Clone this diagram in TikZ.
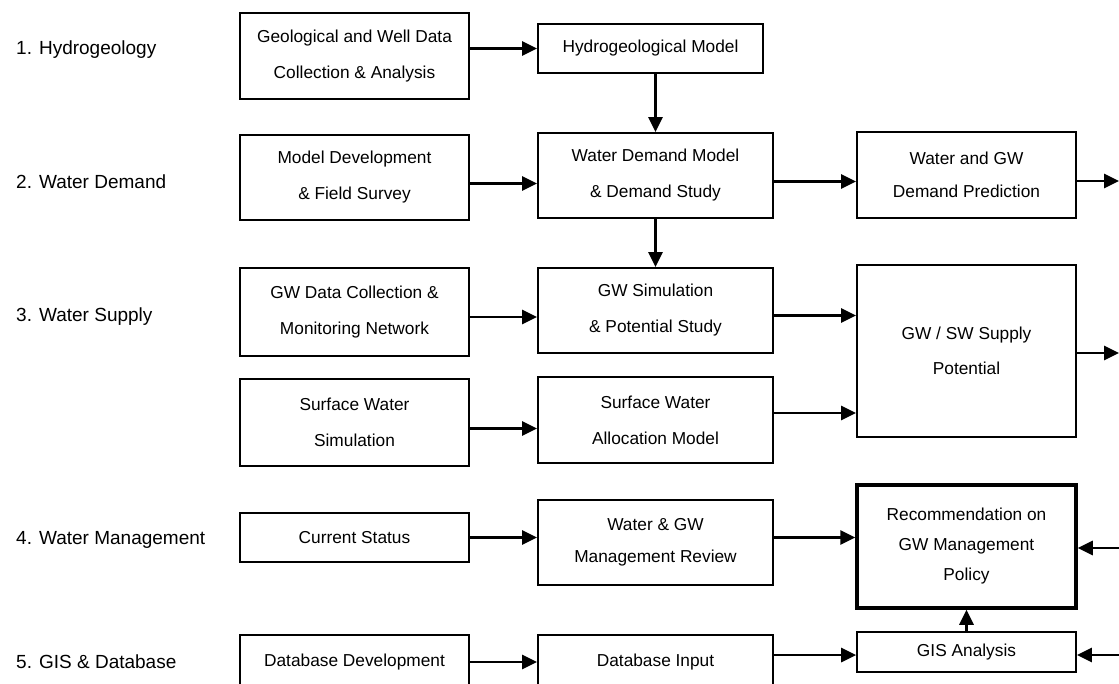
\documentclass[tikz,border=0pt]{standalone}
\usepackage{fontspec}
\setmainfont{Liberation Sans}
\usetikzlibrary{arrows.meta}

\tikzset{% one unit = one pixel of the layout
  box/.style ={draw=black, line width=1.7pt, align=center, inner sep=2pt,
    font=\fontsize{17.3}{36}\selectfont},
  colA/.style={box, minimum width=229pt},
  colB/.style={box, minimum width=235pt},
  colC/.style={box, minimum width=219pt},
  rowlabel/.style={anchor=west, inner sep=0pt, font=\fontsize{19}{22}\selectfont},
  arr/.style ={line width=2.8pt, -{Triangle[length=15pt,width=14pt]}},
}

\begin{document}
\begin{tikzpicture}[x=1pt, y=-1pt]
  \useasboundingbox (0,0) rectangle (1119,683);
  \clip (0,0) rectangle (1119,683);
  % row labels
  \node[rowlabel] (r1) at (16, 50) {1. Hydrogeology};
  \node[rowlabel] (r2) at (16, 182) {2. Water Demand};
  \node[rowlabel] (r3) at (16, 317) {3. Water Supply};
  \node[rowlabel] (r4) at (16, 540) {4. Water Management};
  \node[rowlabel] (r5) at (16, 662) {5. GIS \& Database};
  % boxes
  \node[colA, minimum height=86pt] (geo) at (354.5, 56) {Geological and Well Data\\Collection \& Analysis};
  \node[colB, minimum width=225pt, minimum height=49pt] (hydro) at (650.5, 48.5) {Hydrogeological Model};
  \node[colA, minimum height=85pt] (md) at (354.5, 177.5) {Model Development\\\& Field Survey};
  \node[colB, minimum height=85pt] (wdm) at (655.5, 175.5) {Water Demand Model\\\& Demand Study};
  \node[colC, minimum height=86pt, font=\fontsize{17.3}{33}\selectfont] (wgd) at (966.5, 175) {Water and GW\\Demand Prediction};
  \node[colA, minimum height=88pt] (gwd) at (354.5, 312) {GW Data Collection \&\\Monitoring Network};
  \node[colB, minimum height=85pt] (gws) at (655.5, 310.5) {GW Simulation\\\& Potential Study};
  \node[colC, minimum height=172pt, font=\fontsize{17.3}{35}\selectfont] (sup) at (966.5, 351) {GW / SW Supply\\Potential};
  \node[colA, minimum height=87pt] (sws) at (354.5, 422.5) {Surface Water\\Simulation};
  \node[colB, minimum height=86pt] (swa) at (655.5, 420) {Surface Water\\Allocation Model};
  \node[colA, minimum height=49pt] (cs) at (354.5, 537.5) {Current Status};
  \node[colB, minimum height=85pt, font=\fontsize{17.3}{32}\selectfont] (rev) at (655.5, 542.5) {Water \& GW\\Management Review};
  \node[colC, line width=3.5pt, minimum height=123pt, font=\fontsize{17.3}{30}\selectfont] (rec) at (966.5, 546.5) {Recommendation on\\GW Management\\Policy};
  \node[colA, minimum height=54pt] (dbd) at (354.5, 662) {Database Development};
  \node[colB, minimum height=54pt] (dbi) at (655.5, 662) {Database Input};
  \node[colC, minimum height=40pt] (gis) at (966.5, 652) {GIS Analysis};
  % free ends at the right margin
  \coordinate (demout) at (1119, 181);
  \coordinate (supout) at (1119, 353);
  \coordinate (recin) at (1119, 548);
  \coordinate (gisin) at (1119, 655);
  % connectors
  \draw[arr] (geo.east |- hydro) -- (hydro.west);
  \draw[arr] (wdm.north |- hydro.south) -- (wdm.north);
  \draw[arr] ([yshift=-6pt]md.east) -- ([yshift=-6pt]md.east -| wdm.west);
  \draw[arr] ([yshift=-6pt]wdm.east) -- ([yshift=-6pt]wdm.east -| wgd.west);
  \draw[arr] (wgd.east |- demout) -- (demout);
  \draw[arr] (wdm.south) -- (gws.north);
  \draw[arr] ([yshift=-5pt]gwd.east) -- ([yshift=-5pt]gwd.east -| gws.west);
  \draw[arr] ([yshift=-5pt]gws.east) -- ([yshift=-5pt]gws.east -| sup.west);
  \draw[arr] ([yshift=-6pt]sws.east) -- ([yshift=-6pt]sws.east -| swa.west);
  \draw[arr] ([yshift=7pt]swa.east) -- ([yshift=7pt]swa.east -| sup.west);
  \draw[arr] (sup.east |- supout) -- (supout);
  \draw[arr] (cs.east) -- (cs.east -| rev.west);
  \draw[arr] (cs.east -| rev.east) -- (cs.east -| rec.west);
  \draw[arr] (recin) -- (recin -| rec.east);
  \draw[arr] (dbd.east) -- (dbd.east -| dbi.west);
  \draw[arr] (gisin -| dbi.east) -- (gisin -| gis.west);
  \draw[arr] (gisin) -- (gisin -| gis.east);
  \draw[arr] (gis.north) -- (gis.north |- rec.south);
\end{tikzpicture}
\end{document}
